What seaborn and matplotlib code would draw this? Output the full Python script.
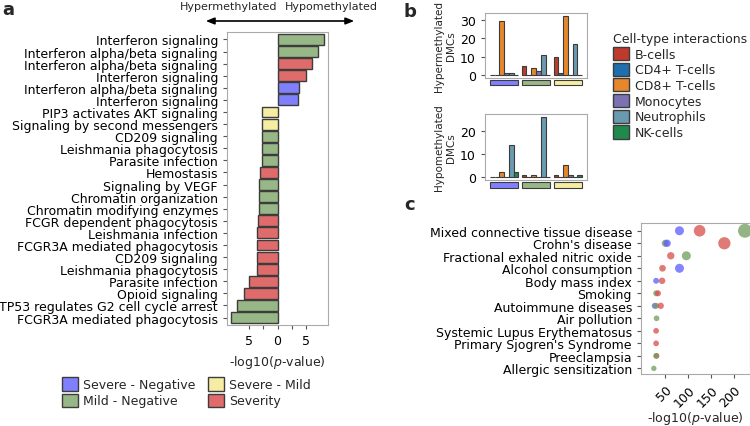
import numpy as np
import pandas as pd
import matplotlib
matplotlib.use("Agg")
import matplotlib.pyplot as plt
import matplotlib.patches as mpatches
import matplotlib.transforms as mtransforms
import seaborn as sns

# ---- panel a: enriched pathways ----
pathways = ["Interferon signaling", "Interferon alpha/beta signaling", "Interferon alpha/beta signaling",
            "Interferon signaling", "Interferon alpha/beta signaling", "Interferon signaling",
            "PIP3 activates AKT signaling", "Signaling by second messengers", "CD209 signaling",
            "Leishmania phagocytosis", "Parasite infection", "Hemostasis", "Signaling by VEGF",
            "Chromatin organization", "Chromatin modifying enzymes", "FCGR dependent phagocytosis",
            "Leishmania infection", "FCGR3A mediated phagocytosis", "CD209 signaling",
            "Leishmania phagocytosis", "Parasite infection", "Opioid signaling",
            "TP53 regulates G2 cell cycle arrest", "FCGR3A mediated phagocytosis"]
path_logp = [8.3, 7.25, 6.1, 5.1, 3.8, 3.7, -2.85, -2.85, -2.85, -2.85, -2.85, -3.05, -3.25, -3.25,
             -3.25, -3.4, -3.7, -3.7, -3.7, -3.7, -5.0, -6.0, -7.2, -8.3]
path_group = ["Mild - Negative", "Mild - Negative", "Severity", "Severity", "Severe - Negative",
              "Severe - Negative", "Severe - Mild", "Severe - Mild", "Mild - Negative", "Mild - Negative",
              "Mild - Negative", "Severity", "Mild - Negative", "Mild - Negative", "Mild - Negative",
              "Severity", "Severity", "Severity", "Severity", "Severity", "Severity", "Severity",
              "Mild - Negative", "Mild - Negative"]

group_names = ["Severe - Negative", "Mild - Negative", "Severe - Mild", "Severity"]
group_colors = ["#8080ff", "#97b787", "#f6eda2", "#e06b6b"]

# ---- panel b: DMC counts per cell type ----
cell_types = ["B-cells", "CD4+ T-cells", "CD8+ T-cells", "Monocytes", "Neutrophils", "NK-cells"]
cell_colors = ["#bf3a2c", "#1f6fae", "#e6872b", "#7b72b4", "#6a9ab0", "#1f8a4c"]
comparisons = ["Severe - Negative", "Mild - Negative", "Severe - Mild"]
hyper_sev_neg = [0, 0, 29, 1, 1, 0]
hyper_mild_neg = [5, 0, 4, 2, 11, 0]
hyper_sev_mild = [10, 1, 32, 0, 17, 0]
hypo_sev_neg = [0, 0, 2, 0, 14, 2]
hypo_mild_neg = [1, 0, 1, 0, 26, 0]
hypo_sev_mild = [1, 0, 5, 1, 0, 1]

# ---- panel c: trait enrichment ----
traits = ["Mixed connective tissue disease", "Crohn's disease", "Fractional exhaled nitric oxide",
          "Alcohol consumption", "Body mass index", "Smoking", "Autoimmune diseases", "Air pollution",
          "Systemic Lupus Erythematosus", "Primary Sjogren's Syndrome", "Preeclampsia",
          "Allergic sensitization"]
dot_trait = ["Mixed connective tissue disease", "Mixed connective tissue disease", "Mixed connective tissue disease",
             "Crohn's disease", "Crohn's disease", "Crohn's disease",
             "Fractional exhaled nitric oxide", "Fractional exhaled nitric oxide",
             "Alcohol consumption", "Alcohol consumption",
             "Body mass index", "Body mass index",
             "Smoking", "Smoking",
             "Autoimmune diseases", "Autoimmune diseases", "Autoimmune diseases",
             "Air pollution", "Systemic Lupus Erythematosus", "Primary Sjogren's Syndrome",
             "Preeclampsia", "Preeclampsia", "Allergic sensitization"]
dot_group = ["Severe - Negative", "Severity", "Mild - Negative",
             "Mild - Negative", "Severe - Negative", "Severity",
             "Severity", "Mild - Negative",
             "Severity", "Severe - Negative",
             "Severe - Negative", "Severity",
             "Mild - Negative", "Severity",
             "Severe - Negative", "Mild - Negative", "Severity",
             "Mild - Negative", "Severity", "Severity",
             "Severity", "Mild - Negative", "Mild - Negative"]
dot_logp = [81, 125, 224, 50, 54, 179, 62, 96, 44, 81, 30, 43, 30, 34, 27, 30, 40, 31, 30, 30, 31, 30, 25]
dot_size = [42, 70, 100, 26, 28, 78, 28, 42, 23, 42, 18, 22, 18, 19, 18, 18, 21, 17, 17, 17, 17, 17, 15]

dot_colors = {"Severe - Negative": "#5b5bff", "Mild - Negative": "#6f9d5c", "Severity": "#d84c4a"}

sns.set_style("ticks")
plt.rcParams["font.family"] = ["DejaVu Sans"]
plt.rcParams["axes.edgecolor"] = "#aaaaaa"
plt.rcParams["axes.spines.top"] = True
plt.rcParams["axes.spines.right"] = True
plt.rcParams["xtick.color"] = "#555555"
plt.rcParams["ytick.color"] = "#555555"
plt.rcParams["xtick.labelcolor"] = "black"
plt.rcParams["ytick.labelcolor"] = "black"
plt.rcParams["xtick.major.size"] = 3
plt.rcParams["ytick.major.size"] = 3

W, H = 750, 427
fig = plt.figure(figsize=(7.5, 4.27), dpi=100)


def box(l, t, r, b):
    return [l / W, 1 - b / H, (r - l) / W, (b - t) / H]


# ---------- a ----------
ax_a = fig.add_axes(box(227, 33, 328, 326))
df_a = pd.DataFrame({"row": range(len(pathways)), "logp": path_logp, "group": path_group})
sns.barplot(data=df_a, x="logp", y="row", hue="group", hue_order=group_names, palette=group_colors,
            orient="h", dodge=False, width=0.9, saturation=1, edgecolor="#3c3c3c", linewidth=1,
            legend=False, ax=ax_a)
ax_a.set_yticks(range(len(pathways)))
ax_a.set_yticklabels(pathways, fontsize=9)
ax_a.set_ylim(len(pathways) - 0.38, -0.62)
ax_a.set_xlim(-9, 9)
ax_a.set_xticks([-5, -2.5, 0, 2.5, 5])
ax_a.set_xticklabels(["5", "", "0", "", "5"], fontsize=9)
ax_a.set_ylabel("")
ax_a.set_xlabel("-log10($p$-value)", fontsize=9)

fig.text(229 / W, 1 - 7 / H, "Hypermethylated", fontsize=8, ha="center", va="center")
fig.text(331 / W, 1 - 7 / H, "Hypomethylated", fontsize=8, ha="center", va="center")
fig.add_artist(mpatches.FancyArrowPatch((203 / W, 1 - 22 / H), (357 / W, 1 - 22 / H),
                                        transform=fig.transFigure, arrowstyle="<|-|>,head_length=5,head_width=2",
                                        color="black", lw=1.2))

handles_a = [mpatches.Patch(facecolor=c, edgecolor="#3c3c3c", lw=1, label=n)
             for n, c in zip(group_names, group_colors)]
fig.legend(handles=handles_a, ncol=2, loc="upper left", bbox_to_anchor=(62 / W, 1 - 378 / H),
           frameon=False, fontsize=9, handlelength=1.3, handleheight=1.3, handletextpad=0.4,
           columnspacing=1.0, labelspacing=0.2, borderpad=0, borderaxespad=0)

# ---------- b ----------
def draw_counts(ax, rows, label, ymax):
    recs = []
    for comp, vals in zip(comparisons, rows):
        for ct, v in zip(cell_types, vals):
            recs.append({"comparison": comp, "cell": ct, "count": v})
    df = pd.DataFrame(recs)
    sns.barplot(data=df, x="comparison", y="count", hue="cell", order=comparisons, hue_order=cell_types,
                palette=cell_colors, width=0.9, saturation=1, edgecolor="#3c3c3c", linewidth=0.8,
                legend=False, ax=ax)
    ax.set_xlim(-0.6, 2.6)
    ax.set_ylim(-0.05 * ymax, 1.05 * ymax)
    ax.set_xticks([])
    ax.set_xlabel("")
    ax.set_ylabel(label, fontsize=7.5, labelpad=3)
    ax.tick_params(axis="y", labelsize=9)
    trans = mtransforms.blended_transform_factory(ax.transData, ax.transAxes)
    for i, c in enumerate(group_colors[:3]):
        ax.add_patch(mpatches.Rectangle((i - 0.45, -0.115), 0.9, 0.08, transform=trans, clip_on=False,
                                        facecolor=c, edgecolor="#3c3c3c", lw=0.8))


ax_b1 = fig.add_axes(box(485, 14, 587, 79))
draw_counts(ax_b1, [hyper_sev_neg, hyper_mild_neg, hyper_sev_mild], "Hypermethylated\nDMCs",
            max(hyper_sev_neg + hyper_mild_neg + hyper_sev_mild))
ax_b1.set_yticks([0, 10, 20, 30])
ax_b2 = fig.add_axes(box(485, 115, 587, 181))
draw_counts(ax_b2, [hypo_sev_neg, hypo_mild_neg, hypo_sev_mild], "Hypomethylated\nDMCs",
            max(hypo_sev_neg + hypo_mild_neg + hypo_sev_mild))
ax_b2.set_yticks([0, 10, 20])

handles_b = [mpatches.Patch(facecolor=c, edgecolor="#3c3c3c", lw=1, label=n)
             for n, c in zip(cell_types, cell_colors)]
leg_b = fig.legend(handles=handles_b, title="Cell-type interactions", loc="upper left",
                   bbox_to_anchor=(613 / W, 1 - 33 / H), frameon=False, fontsize=9, title_fontsize=9,
                   handlelength=1.25, handleheight=1.25, handletextpad=0.5, labelspacing=0.15,
                   borderpad=0, borderaxespad=0)
leg_b._legend_box.align = "left"

# ---------- c ----------
ax_c = fig.add_axes(box(641, 224, 750, 375))
df_c = pd.DataFrame({"row": [traits.index(t) for t in dot_trait], "logp": dot_logp,
                     "group": dot_group, "size": dot_size})
sns.scatterplot(data=df_c, x="logp", y="row", hue="group", palette=dot_colors, size="size",
                sizes=(min(dot_size), max(dot_size)), size_norm=(min(dot_size), max(dot_size)),
                alpha=0.75, linewidth=0, legend=False, ax=ax_c)
ax_c.set_yticks(range(len(traits)))
ax_c.set_yticklabels(traits, fontsize=9)
ax_c.set_ylim(len(traits) - 0.55, -0.62)
ax_c.set_xlim(-3, 235)
ax_c.set_xticks([50, 100, 150, 200])
ax_c.set_xticklabels(["50", "100", "150", "200"], rotation=45, ha="right", rotation_mode="anchor", fontsize=9)
ax_c.set_ylabel("")
ax_c.set_xlabel("-log10($p$-value)", fontsize=9, labelpad=0)

fig.text(2 / W, 1 - 10 / H, "a", fontsize=13, fontweight="bold", va="center")
fig.text(404 / W, 1 - 12 / H, "b", fontsize=13, fontweight="bold", va="center")
fig.text(404 / W, 1 - 205 / H, "c", fontsize=13, fontweight="bold", va="center")

fig.savefig("out.png", dpi=100)
